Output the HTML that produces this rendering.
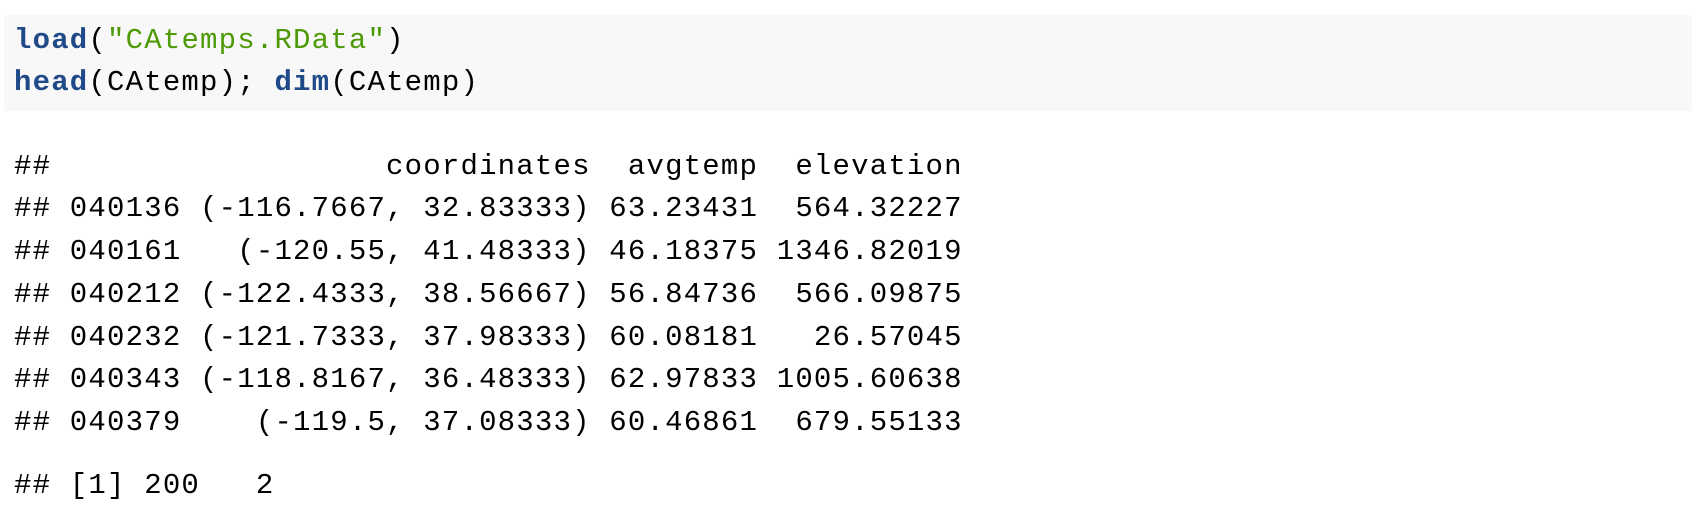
<!DOCTYPE html>
<html><head><meta charset="utf-8"><style>
body{margin:0;width:1700px;height:522px;background:#fff;overflow:hidden;position:relative;font-family:"Liberation Mono",monospace;}
.ln{position:absolute;left:14px;font-size:29px;letter-spacing:1.2px;white-space:pre;line-height:30px;color:#000;}
#code{position:absolute;left:4px;top:15px;width:1688px;height:96px;background:#f8f8f8;}
.fn{color:#204a87;font-weight:bold}
.st{color:#4e9a06}
</style></head><body>
<div id="code"></div>
<div class="ln" style="top:26px"><span class="fn">load</span>(<span class="st">"CAtemps.RData"</span>)</div>
<div class="ln" style="top:68px"><span class="fn">head</span>(CAtemp); <span class="fn">dim</span>(CAtemp)</div>
<div class="ln" style="top:152px">##                  coordinates  avgtemp  elevation</div>
<div class="ln" style="top:194px">## 040136 (-116.7667, 32.83333) 63.23431  564.32227</div>
<div class="ln" style="top:237px">## 040161   (-120.55, 41.48333) 46.18375 1346.82019</div>
<div class="ln" style="top:280px">## 040212 (-122.4333, 38.56667) 56.84736  566.09875</div>
<div class="ln" style="top:323px">## 040232 (-121.7333, 37.98333) 60.08181   26.57045</div>
<div class="ln" style="top:365px">## 040343 (-118.8167, 36.48333) 62.97833 1005.60638</div>
<div class="ln" style="top:408px">## 040379    (-119.5, 37.08333) 60.46861  679.55133</div>
<div class="ln" style="top:471px">## [1] 200   2</div>
</body></html>
